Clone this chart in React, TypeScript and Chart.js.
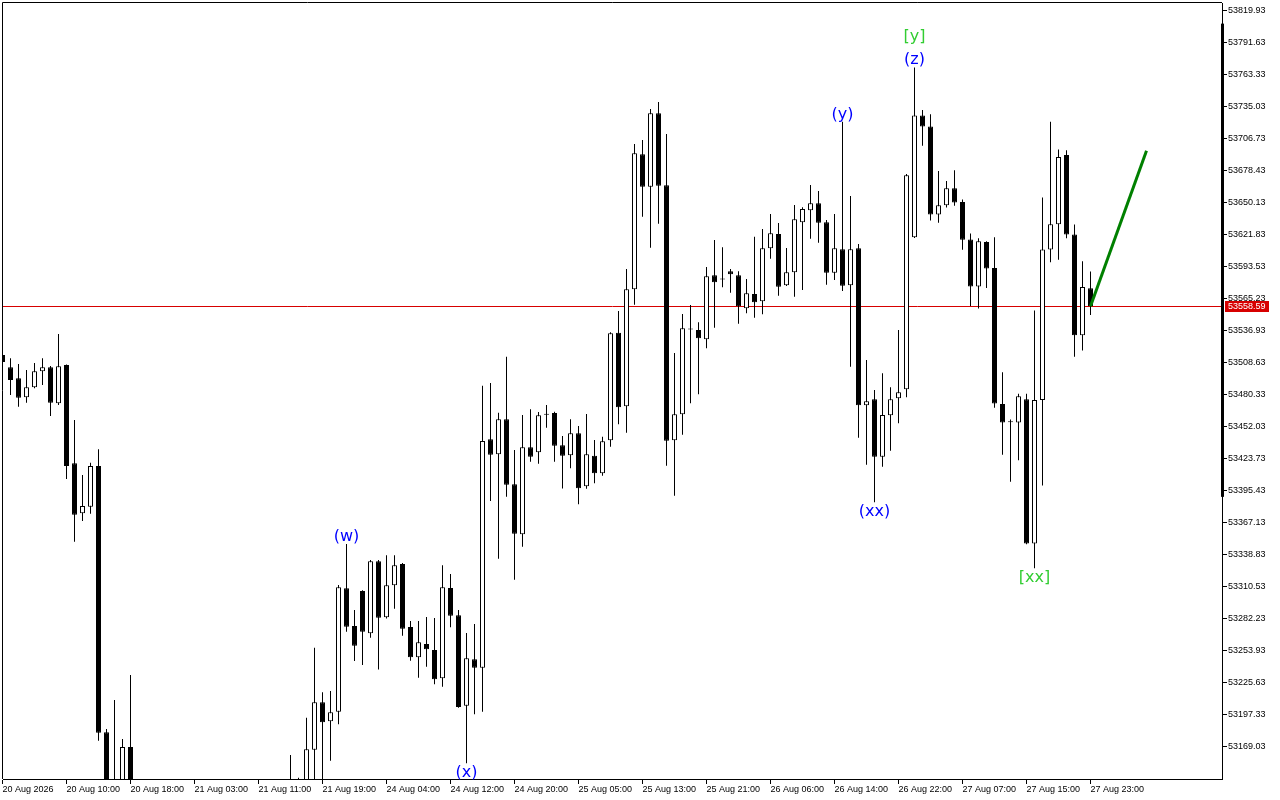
import React, { useEffect, useRef } from 'react';
import { Chart, registerables } from 'chart.js';

Chart.register(...registerables);

// ---- data (H1 candles, index = bar number) ----
const OPEN = [
  53515.44, 53504.56, 53494.83, 53478.03, 53486.87, 53501.02, 53504.56, 53472.72, 53506.59, 53419.66,
  53375.44, 53381.28, 53417.27, 53181.77, 53118.0, 53124.0, 53168.76, 53102.0, 53085.0, 53064.0,
  53090.0, 53079.0, 53058.0, 53071.0, 53098.0, 53092.0, 53107.0, 53095.0, 53074.0, 53088.0,
  53103.0, 53096.0, 53109.0, 53100.0, 53114.0, 53106.0, 53120.0, 53128.0, 53124.0, 53166.37,
  53208.29, 53191.49, 53199.98, 53309.11, 53275.77, 53306.73, 53269.31, 53332.99, 53283.47, 53311.77,
  53330.6, 53274.89, 53248.09, 53259.85, 53254.55, 53229.52, 53309.38, 53285.23, 53205.29, 53246.32,
  53238.89, 53440.88, 53427.62, 53458.57, 53401.09, 53356.87, 53433.81, 53429.39, 53462.55, 53464.14,
  53435.57, 53426.73, 53446.19, 53399.32, 53426.38, 53410.81, 53440.0, 53535.16, 53470.07, 53573.54,
  53692.93, 53664.28, 53729.19, 53665.52, 53440.0, 53462.99, 53538.0, 53537.55, 53529.32, 53585.92,
  53582.2, 53589.46, 53585.92, 53556.74, 53569.38, 53562.93, 53609.8, 53622.45, 53577.08, 53588.58,
  53632.79, 53643.41, 53649.6, 53632.79, 53588.22, 53608.91, 53577.08, 53609.8, 53470.95, 53476.26,
  53425.5, 53462.11, 53477.14, 53485.1, 53619.53, 53727.33, 53717.52, 53639.6, 53647.83, 53662.86,
  53650.75, 53617.67, 53576.11, 53615.37, 53592.47, 53472.1, 53456.8, 53455.74, 53476.35, 53348.73,
  53475.64, 53608.83, 53631.11, 53692.31, 53621.92, 53532.95, 53574.51,
];
const HIGH = [
  53517.21, 53512.52, 53507.48, 53502.17, 53508.36, 53512.52, 53505.71, 53534.01, 53507.03, 53457.95,
  53409.31, 53420.19, 53432.04, 53184.68, 53210.33, 53175.84, 53232.44, 53128.0, 53110.0, 53098.0,
  53118.0, 53101.0, 53086.0, 53112.0, 53124.0, 53117.0, 53131.0, 53116.0, 53099.0, 53113.0,
  53127.0, 53121.0, 53133.0, 53126.0, 53134.0, 53129.0, 53161.69, 53141.6, 53194.67, 53256.58,
  53217.13, 53218.29, 53312.03, 53348.29, 53289.92, 53307.5, 53334.14, 53334.14, 53338.3, 53338.3,
  53331.5, 53280.19, 53280.19, 53283.73, 53282.85, 53329.45, 53321.76, 53289.92, 53269.58, 53277.54,
  53488.29, 53490.67, 53464.41, 53513.93, 53431.42, 53462.37, 53467.41, 53465.03, 53471.22, 53465.29,
  53443.8, 53458.57, 53452.65, 53463.26, 53440.26, 53443.18, 53535.51, 53554.35, 53591.49, 53702.04,
  53705.58, 53732.99, 53739.18, 53710.88, 53517.21, 53551.7, 53559.66, 53544.35, 53593.26, 53617.14,
  53610.68, 53591.49, 53589.46, 53582.65, 53620.06, 53626.87, 53640.13, 53632.17, 53610.06, 53648.09,
  53646.06, 53665.78, 53660.47, 53634.83, 53640.13, 53721.76, 53656.05, 53613.6, 53511.01, 53484.48,
  53499.25, 53486.87, 53537.55, 53675.51, 53769.78, 53732.2, 53728.31, 53678.16, 53669.32, 53678.87,
  53653.05, 53622.89, 53618.64, 53616.08, 53619.62, 53500.23, 53458.31, 53481.21, 53481.21, 53554.88,
  53654.64, 53721.76, 53697.18, 53696.56, 53630.76, 53598.39, 53589.19,
];
const LOW = [
  53505.71, 53480.06, 53469.71, 53473.25, 53485.99, 53488.91, 53461.49, 53471.22, 53405.77, 53350.32,
  53368.63, 53375.09, 53174.33, 53095.0, 53092.0, 53104.0, 53088.0, 53070.0, 53052.0, 53041.0,
  53072.0, 53048.0, 53033.0, 53060.0, 53081.0, 53069.0, 53088.0, 53062.0, 53051.0, 53070.0,
  53085.0, 53079.0, 53090.0, 53083.0, 53097.0, 53091.0, 53101.0, 53110.0, 53115.0, 53136.0,
  53132.0, 53156.65, 53188.84, 53270.74, 53244.82, 53241.28, 53265.42, 53237.3, 53282.5, 53291.07,
  53267.2, 53245.09, 53230.05, 53239.78, 53224.21, 53222.09, 53274.62, 53203.52, 53154.35, 53197.68,
  53199.98, 53386.32, 53335.29, 53390.12, 53316.72, 53345.9, 53421.08, 53419.3, 53451.14, 53421.08,
  53397.37, 53415.24, 53383.4, 53397.19, 53401.97, 53408.69, 53434.34, 53454.15, 53446.72, 53559.92,
  53637.75, 53610.33, 53631.55, 53417.54, 53391.01, 53444.95, 53472.72, 53480.68, 53521.36, 53539.58,
  53575.31, 53570.53, 53543.12, 53552.32, 53548.42, 53551.43, 53600.6, 53567.88, 53576.5, 53567.0,
  53572.92, 53618.29, 53614.75, 53577.61, 53581.76, 53572.04, 53505.09, 53442.3, 53418.42, 53385.17,
  53416.65, 53430.8, 53455.03, 53478.03, 53619.0, 53700.45, 53634.39, 53632.44, 53645.79, 53647.47,
  53608.56, 53558.77, 53556.47, 53574.78, 53468.83, 53427.26, 53403.39, 53422.4, 53348.0, 53326.8,
  53400.11, 53597.42, 53599.72, 53618.64, 53513.93, 53519.5, 53550.9,
];
const CLOSE = [
  53509.25, 53493.33, 53477.67, 53486.87, 53501.02, 53504.56, 53473.25, 53505.44, 53417.27, 53374.2,
  53381.9, 53417.27, 53181.41, 53112.0, 53126.0, 53168.76, 53102.0, 53085.0, 53064.0, 53090.0,
  53079.0, 53058.0, 53071.0, 53098.0, 53092.0, 53107.0, 53095.0, 53074.0, 53088.0, 53103.0,
  53096.0, 53109.0, 53100.0, 53114.0, 53106.0, 53120.0, 53128.0, 53124.0, 53166.72, 53208.29,
  53190.6, 53199.45, 53310.0, 53275.15, 53258.35, 53270.74, 53332.99, 53283.11, 53311.77, 53329.45,
  53273.38, 53248.09, 53261.36, 53255.16, 53228.64, 53310.0, 53284.88, 53204.14, 53247.2, 53238.89,
  53439.38, 53427.26, 53458.57, 53400.73, 53357.4, 53433.81, 53425.5, 53462.11, 53463.45, 53435.22,
  53426.38, 53446.19, 53397.55, 53427.62, 53410.81, 53439.12, 53534.63, 53469.18, 53573.54, 53693.81,
  53664.28, 53729.19, 53665.16, 53439.65, 53462.99, 53539.05, 53538.9, 53530.21, 53585.04, 53579.73,
  53583.1, 53586.81, 53558.51, 53570.0, 53562.04, 53609.8, 53623.07, 53575.84, 53588.58, 53635.45,
  53644.56, 53649.6, 53632.44, 53588.22, 53609.8, 53576.73, 53608.91, 53470.95, 53474.49, 53425.5,
  53462.37, 53476.26, 53482.45, 53674.36, 53727.33, 53717.52, 53639.6, 53647.83, 53662.86, 53650.39,
  53617.32, 53576.11, 53616.08, 53591.85, 53472.46, 53455.74, 53455.9, 53478.91, 53348.73, 53475.64,
  53608.83, 53631.11, 53690.63, 53621.92, 53532.95, 53575.49, 53558.59,
];

const TIME_LABELS = [
  '20 Aug 2026', '20 Aug 10:00', '20 Aug 18:00', '21 Aug 03:00', '21 Aug 11:00', '21 Aug 19:00',
  '24 Aug 04:00', '24 Aug 12:00', '24 Aug 20:00', '25 Aug 05:00', '25 Aug 13:00', '25 Aug 21:00',
  '26 Aug 06:00', '26 Aug 14:00', '26 Aug 22:00', '27 Aug 07:00', '27 Aug 15:00', '27 Aug 23:00',
];
const BARS_PER_LABEL = 8;

const PRICE_TICKS = [
  53169.03, 53197.33, 53225.63, 53253.93, 53282.23, 53310.53, 53338.83, 53367.13, 53395.43, 53423.73,
  53452.03, 53480.33, 53508.63, 53536.93, 53565.23, 53593.53, 53621.83, 53650.13, 53678.43, 53706.73,
  53735.03, 53763.33, 53791.63, 53819.93,
];

const CURRENT_PRICE = 53558.59;

const PROJECTION_BARS = [136, 143];
const PROJECTION_PRICES = [53558.59, 53696.0];

const WAVE_TEXT = ['(w)', '(x)', '(y)', '(xx)', '(z)', '[y]', '[xx]'];
const WAVE_BAR = [43, 58, 105, 109, 114, 114, 129];
const WAVE_SIDE = ['above', 'below', 'above', 'below', 'above', 'above', 'below'];
const WAVE_STACK = [0, 0, 0, 0, 0, 1, 0];
const WAVE_COLOR = ['#0000ff', '#0000ff', '#0000ff', '#0000ff', '#0000ff', '#32cd32', '#32cd32'];

// visible ranges
const X_RANGE = [0.0625, 152.4375];
const Y_RANGE = [53140.47, 53826.74];
const AXIS_SCROLL_RANGE = [53808.5, 53390.0];

const TICK_FONT = { family: 'Liberation Sans', size: 9 };
const PRICE_RED = 'rgb(215,0,0)';

const overlayPlugin = {
  id: 'mtOverlay',
  beforeDatasetsDraw(chart: any) {
    const { ctx, chartArea, scales } = chart;
    const y = Math.floor(scales.y.getPixelForValue(CURRENT_PRICE)) + 0.5;
    ctx.save();
    ctx.strokeStyle = PRICE_RED;
    ctx.lineWidth = 1;
    ctx.beginPath();
    ctx.moveTo(chartArea.left, y);
    ctx.lineTo(chartArea.right, y);
    ctx.stroke();
    ctx.restore();
  },
  afterDraw(chart: any) {
    const { ctx, chartArea, scales } = chart;
    const xs = scales.x;
    const ys = scales.y;
    ctx.save();
    // frame (top & left)
    ctx.strokeStyle = '#000';
    ctx.lineWidth = 1;
    ctx.beginPath();
    ctx.moveTo(chartArea.left - 0.5, chartArea.bottom);
    ctx.lineTo(chartArea.left - 0.5, chartArea.top - 0.5);
    ctx.lineTo(chartArea.right, chartArea.top - 0.5);
    ctx.stroke();
    // thick bar on the price axis
    const sy0 = ys.getPixelForValue(AXIS_SCROLL_RANGE[0]);
    const sy1 = ys.getPixelForValue(AXIS_SCROLL_RANGE[1]);
    ctx.fillStyle = '#000';
    ctx.fillRect(Math.round(chartArea.right) - 1, sy0, 3, sy1 - sy0);

    // wave labels
    ctx.font = '16px "DejaVu Sans"';
    ctx.textAlign = 'center';
    ctx.textBaseline = 'alphabetic';
    for (let i = 0; i < WAVE_TEXT.length; i++) {
      const b = WAVE_BAR[i];
      const x = xs.getPixelForValue(b);
      let yy;
      if (WAVE_SIDE[i] === 'above') {
        yy = ys.getPixelForValue(HIGH[b]) - 3 - WAVE_STACK[i] * 23;
      } else {
        yy = ys.getPixelForValue(LOW[b]) + 14;
      }
      ctx.fillStyle = WAVE_COLOR[i];
      ctx.fillText(WAVE_TEXT[i], x, yy);
    }

    // current price label
    const py = Math.floor(ys.getPixelForValue(CURRENT_PRICE));
    ctx.fillStyle = PRICE_RED;
    ctx.fillRect(chartArea.right + 3, py - 5, 44, 11);
    ctx.fillStyle = '#fff';
    ctx.font = '9px "Liberation Sans"';
    ctx.textAlign = 'left';
    ctx.textBaseline = 'middle';
    ctx.fillText(CURRENT_PRICE.toFixed(2), chartArea.right + 6, py + 0.5);
    ctx.restore();
  },
};

export default function App() {
  const canvasRef = useRef<HTMLCanvasElement | null>(null);

  useEffect(() => {
    const canvas = canvasRef.current;
    if (!canvas) return;

    const wicks = OPEN.map((_, i) => ({ x: i, y: [LOW[i], HIGH[i]] }));
    const bodies = OPEN.map((o, i) => ({ x: i, y: [o, CLOSE[i]] }));
    const bodyColors = OPEN.map((o, i) => (CLOSE[i] >= o ? '#ffffff' : '#000000'));
    const projection = PROJECTION_BARS.map((b, i) => ({ x: b, y: PROJECTION_PRICES[i] }));

    const chart = new Chart(canvas, {
      type: 'bar',
      data: {
        datasets: [
          {
            type: 'line',
            data: projection,
            borderColor: '#008000',
            borderWidth: 3,
            pointRadius: 0,
            order: 0,
            clip: 0,
          } as any,
          {
            type: 'bar',
            data: bodies,
            backgroundColor: bodyColors,
            borderColor: '#000000',
            borderWidth: 1,
            borderSkipped: false,
            barThickness: 5,
            grouped: false,
            inflateAmount: 0,
            order: 1,
            clip: 0,
          } as any,
          {
            type: 'bar',
            data: wicks,
            backgroundColor: '#000000',
            borderWidth: 0,
            barThickness: 1,
            grouped: false,
            inflateAmount: 0,
            order: 2,
            clip: 0,
          } as any,
        ],
      },
      options: {
        responsive: false,
        devicePixelRatio: 1,
        animation: false,
        events: [],
        layout: { padding: { left: 3, top: 3, right: 0, bottom: 0 } },
        plugins: { legend: { display: false }, tooltip: { enabled: false } },
        scales: {
          x: {
            type: 'linear',
            min: X_RANGE[0],
            max: X_RANGE[1],
            offset: false,
            afterBuildTicks: (s: any) => {
              s.ticks = TIME_LABELS.map((_, i) => ({ value: i * BARS_PER_LABEL }));
            },
            afterFit: (s: any) => {
              s.height = 21;
              s.paddingLeft = 0;
              s.paddingRight = 0;
            },
            grid: { drawOnChartArea: false, drawTicks: true, tickLength: 5, tickColor: '#000', offset: false },
            border: { display: true, color: '#000', width: 1 },
            ticks: {
              autoSkip: false,
              maxRotation: 0,
              minRotation: 0,
              align: 'start',
              padding: 0,
              color: '#000',
              font: TICK_FONT,
              callback: (v: any) => TIME_LABELS[Math.round(Number(v) / BARS_PER_LABEL)] ?? '',
            },
          },
          y: {
            type: 'linear',
            position: 'right',
            min: Y_RANGE[0],
            max: Y_RANGE[1],
            afterBuildTicks: (s: any) => {
              s.ticks = PRICE_TICKS.map((v) => ({ value: v }));
            },
            afterFit: (s: any) => {
              s.width = 58;
              s.paddingTop = 0;
              s.paddingBottom = 0;
            },
            grid: { drawOnChartArea: false, drawTicks: true, tickLength: 5, tickColor: '#000' },
            border: { display: true, color: '#000', width: 1 },
            ticks: {
              autoSkip: false,
              padding: 1,
              color: '#000',
              font: TICK_FONT,
              callback: (v: any) => Number(v).toFixed(2),
            },
          },
        },
      } as any,
      plugins: [overlayPlugin],
    });

    return () => chart.destroy();
  }, []);

  return (
    <div style={{ position: 'fixed', left: 0, top: 0, width: 1280, height: 800, background: '#ffffff' }}>
      <canvas ref={canvasRef} width={1280} height={800} style={{ display: 'block' }} />
    </div>
  );
}
